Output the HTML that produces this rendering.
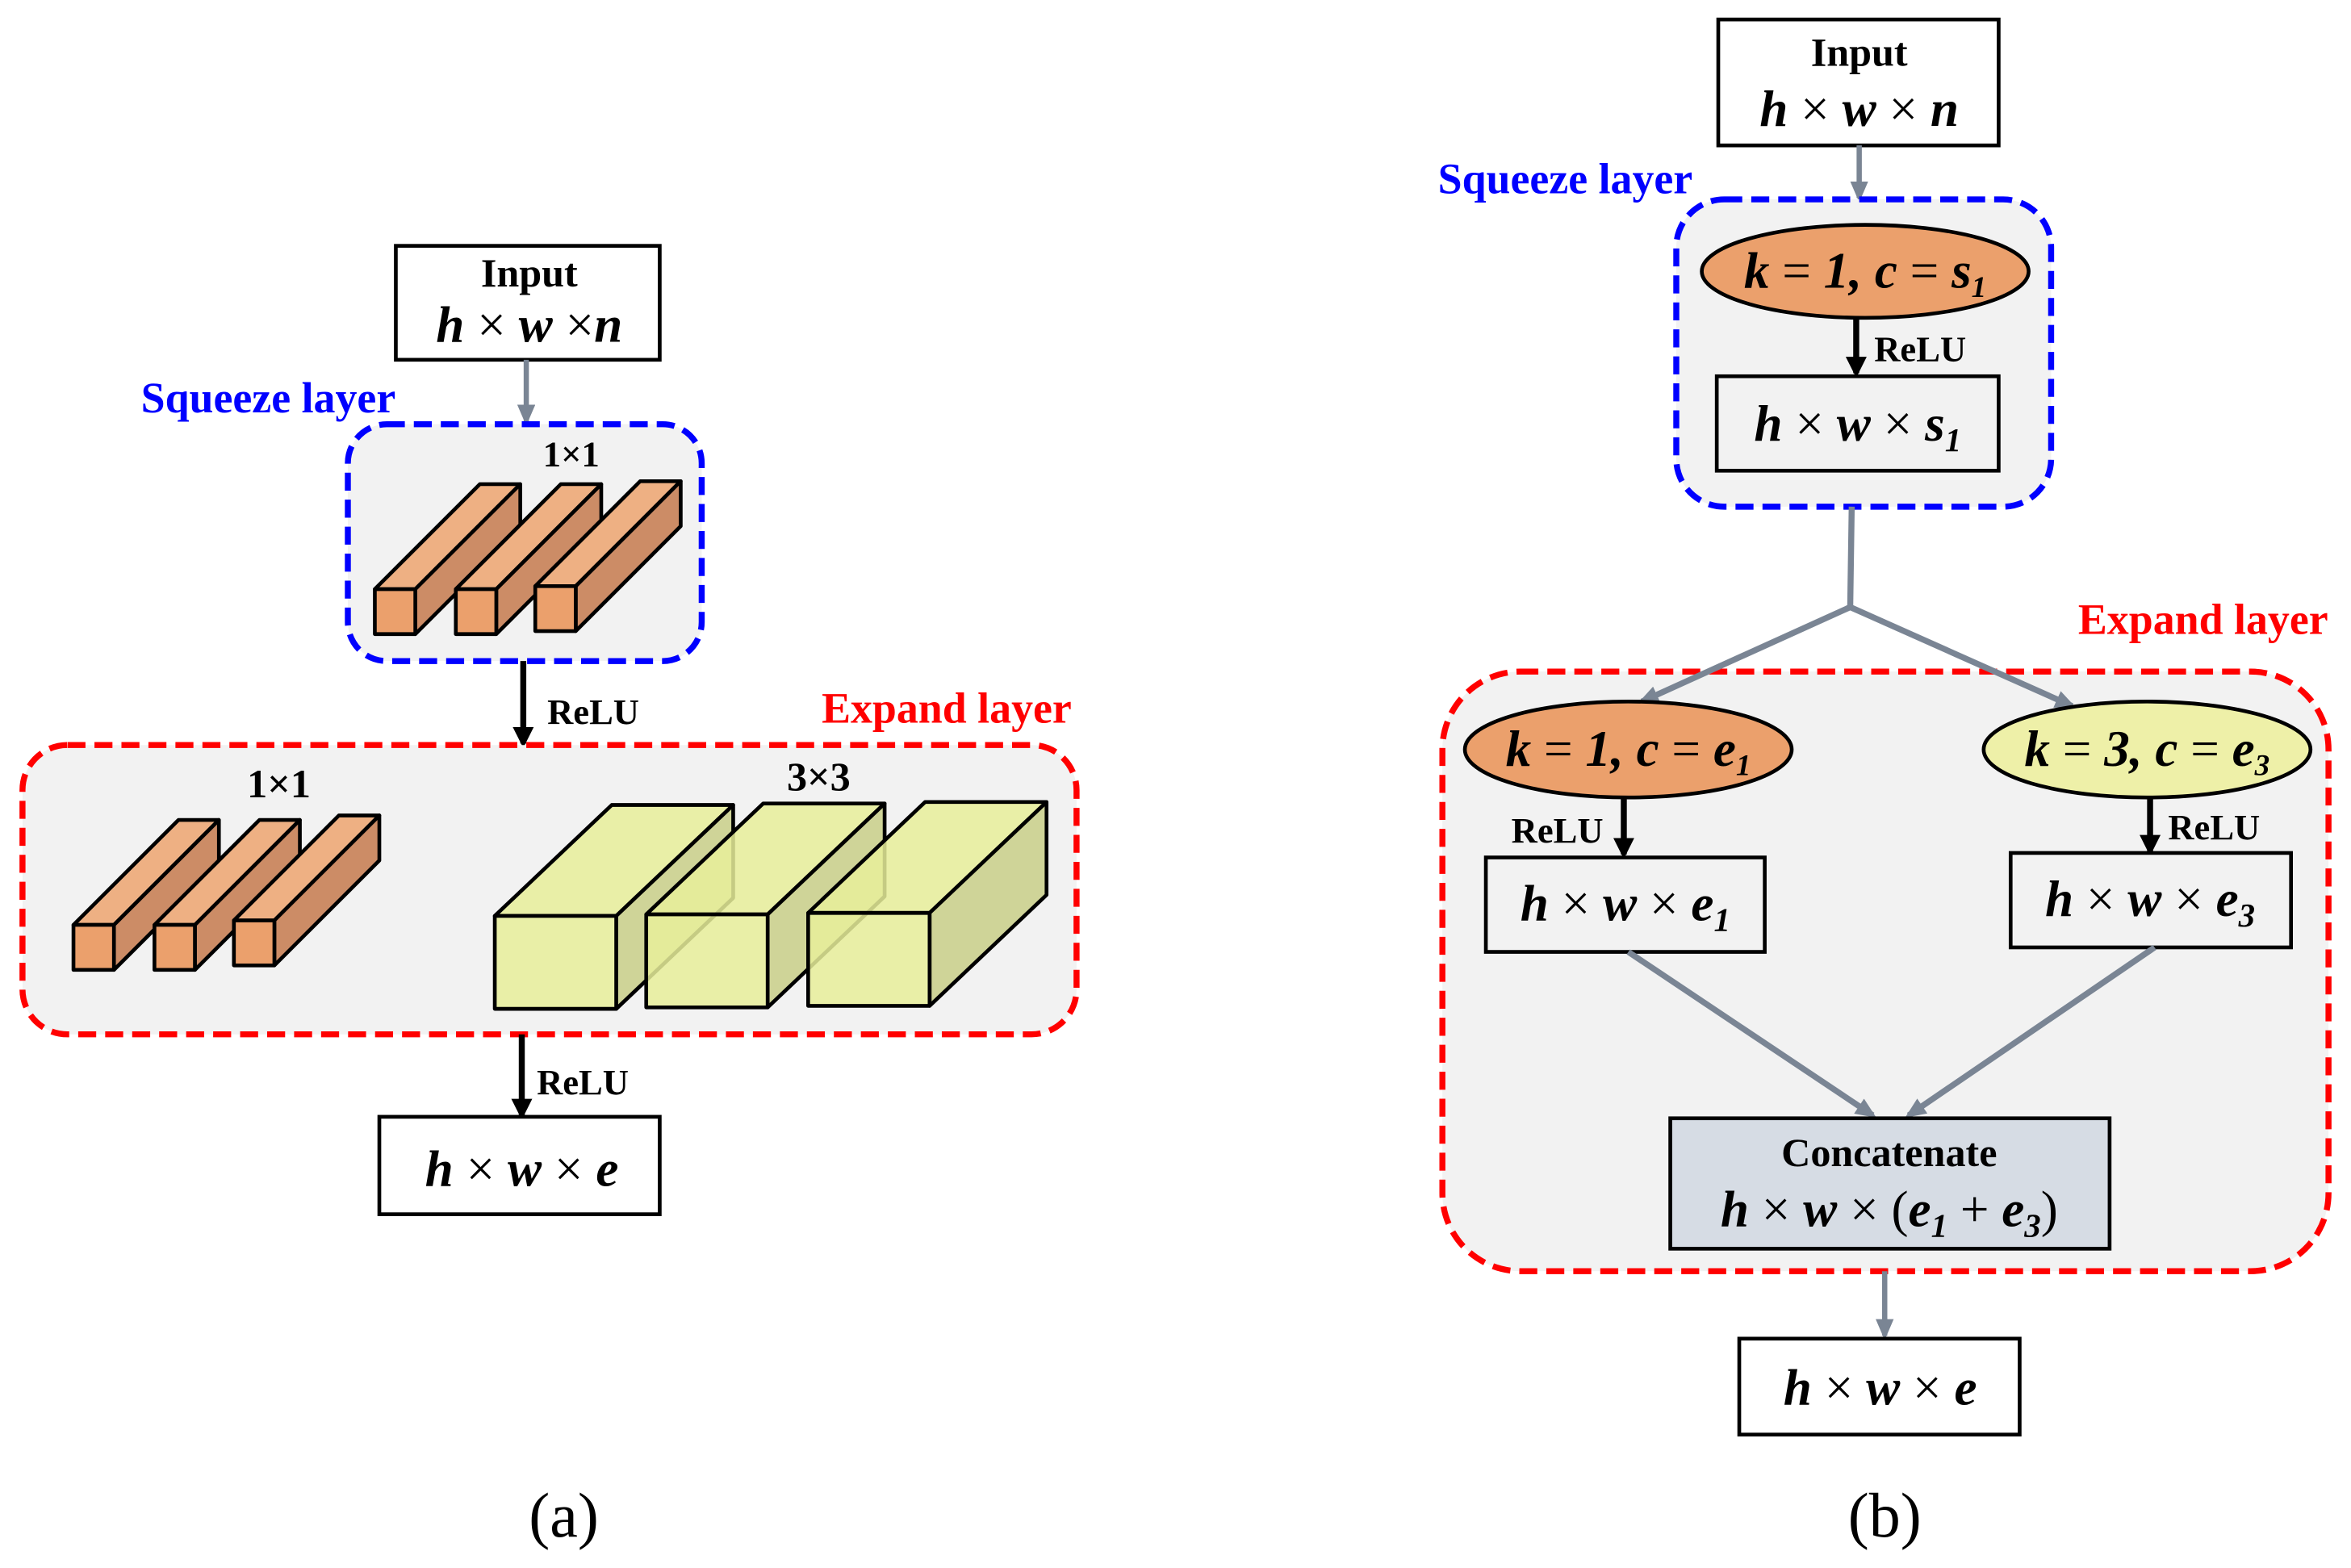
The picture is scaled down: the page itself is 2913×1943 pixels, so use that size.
<!DOCTYPE html>
<html><head><meta charset="utf-8"><style>
html,body{margin:0;padding:0;background:#fff}
svg{display:block}
text{font-family:"Liberation Serif",serif;font-weight:bold}
.m{font-style:italic;font-size:34px}
.x{font-style:normal;font-weight:normal}
.l{font-size:29px}
.i{font-size:27px}
.r{font-size:24px}
</style></head><body>
<svg width="2913" height="1943" viewBox="0 0 1568 1046" preserveAspectRatio="none" xmlns="http://www.w3.org/2000/svg">
<defs>
<marker id="ag" markerWidth="14" markerHeight="12" refX="11" refY="6" orient="auto" markerUnits="userSpaceOnUse" viewBox="0 0 14 12"><path d="M0,0 L14,6 L0,12z" fill="#7a8594"/></marker>
<marker id="ab" markerWidth="14" markerHeight="14" refX="11" refY="7" orient="auto" markerUnits="userSpaceOnUse" viewBox="0 0 14 14"><path d="M0,0 L14,7 L0,14z" fill="#000"/></marker>
<g id="bar" stroke="#000" stroke-width="2.5" stroke-linejoin="round">
<path d="M0,0 L70,-70 L97,-70 L27,0z" fill="#eeb083"/>
<path d="M27,0 L97,-70 L97,-40 L27,30z" fill="#cc8c66"/>
<rect x="0" y="0" width="27" height="30" fill="#eba06c"/>
</g>
<g id="box" stroke="#000" stroke-width="2.5" stroke-linejoin="round">
<path d="M0,0 L78,-74 L159,-74 L81,0z" fill="#e8ef9a" fill-opacity="0.85"/>
<path d="M81,0 L159,-74 L159,-12 L81,62z" fill="#c9cf88" fill-opacity="0.85"/>
<rect x="0" y="0" width="81" height="62" fill="#e8ef9a" fill-opacity="0.85"/>
</g>
</defs>

<!-- Panel (a) -->
<rect x="264" y="164" width="176" height="76" fill="#fff" stroke="#000" stroke-width="2.5"/>
<text x="353" y="191" text-anchor="middle" class="i">Input</text>
<text x="353" y="228" text-anchor="middle" class="m">h <tspan class="x">×</tspan> w <tspan class="x">×</tspan>n</text>
<text x="94" y="275" class="l" fill="#0000ff">Squeeze layer</text>
<line x1="351" y1="240" x2="351" y2="281" stroke="#7a8594" stroke-width="3.5" marker-end="url(#ag)"/>
<rect x="232" y="283" width="236" height="158" rx="26" fill="#f2f2f2" stroke="#0000ff" stroke-width="4" stroke-dasharray="12,6"/>
<text x="381" y="311" text-anchor="middle" class="r">1×1</text>
<use href="#bar" x="250" y="393"/>
<use href="#bar" x="304" y="393"/>
<use href="#bar" x="357" y="391"/>
<line x1="349" y1="441" x2="349" y2="496" stroke="#000" stroke-width="4" marker-end="url(#ab)"/>
<text x="365" y="483" class="r">ReLU</text>
<text x="548" y="482" class="l" fill="#ff0000">Expand layer</text>
<rect x="15" y="497" width="703" height="193" rx="30" fill="#f2f2f2" stroke="#ff0000" stroke-width="4" stroke-dasharray="12,6"/>
<text x="186" y="532" text-anchor="middle" class="i">1×1</text>
<use href="#bar" x="49" y="617"/>
<use href="#bar" x="103" y="617"/>
<use href="#bar" x="156" y="614"/>
<text x="546" y="527" text-anchor="middle" class="i">3×3</text>
<use href="#box" x="330" y="611"/>
<use href="#box" x="431" y="610"/>
<use href="#box" x="539" y="609"/>
<line x1="348" y1="690" x2="348" y2="744" stroke="#000" stroke-width="4" marker-end="url(#ab)"/>
<text x="358" y="730" class="r">ReLU</text>
<rect x="253" y="745" width="187" height="65" fill="#fff" stroke="#000" stroke-width="2.5"/>
<text x="348" y="791" text-anchor="middle" class="m">h <tspan class="x">×</tspan> w <tspan class="x">×</tspan> e</text>
<text x="376" y="1025" text-anchor="middle" font-size="42" style="font-weight:normal">(a)</text>

<!-- Panel (b) -->
<rect x="1146" y="13" width="187" height="84" fill="#fff" stroke="#000" stroke-width="2.5"/>
<text x="1240" y="44" text-anchor="middle" class="i">Input</text>
<text x="1240" y="84" text-anchor="middle" class="m">h <tspan class="x">×</tspan> w <tspan class="x">×</tspan> n</text>
<text x="959" y="129" class="l" fill="#0000ff">Squeeze layer</text>
<line x1="1240" y1="97" x2="1240" y2="132" stroke="#7a8594" stroke-width="3.5" marker-end="url(#ag)"/>
<rect x="1118" y="133" width="250" height="205" rx="32" fill="#f2f2f2" stroke="#0000ff" stroke-width="4" stroke-dasharray="12,6"/>
<ellipse cx="1244" cy="181" rx="109" ry="31" fill="#eba06c" stroke="#000" stroke-width="2.5"/>
<text x="1244" y="192" text-anchor="middle" class="m" font-size="31">k <tspan class="x">=</tspan> 1, c <tspan class="x">=</tspan> s<tspan font-size="20" dy="6">1</tspan></text>
<line x1="1238" y1="212" x2="1238" y2="249" stroke="#000" stroke-width="4" marker-end="url(#ab)"/>
<text x="1250" y="241" class="r">ReLU</text>
<rect x="1145" y="251" width="188" height="63" fill="#f2f2f2" stroke="#000" stroke-width="2.5"/>
<text x="1239" y="294" text-anchor="middle" class="m">h <tspan class="x">×</tspan> w <tspan class="x">×</tspan> s<tspan font-size="22" dy="7">1</tspan></text>
<text x="1386" y="423" class="l" fill="#ff0000">Expand layer</text>
<rect x="962" y="448" width="591" height="400" rx="52" fill="#f2f2f2" stroke="#ff0000" stroke-width="4" stroke-dasharray="12,6"/>
<polyline points="1235,338 1234,405" fill="none" stroke="#7a8594" stroke-width="4"/>
<line x1="1234" y1="405" x2="1095" y2="468" stroke="#7a8594" stroke-width="4" marker-end="url(#ag)"/>
<line x1="1234" y1="405" x2="1382" y2="471" stroke="#7a8594" stroke-width="4" marker-end="url(#ag)"/>
<ellipse cx="1086" cy="500" rx="109" ry="32" fill="#eba06c" stroke="#000" stroke-width="2.5"/>
<text x="1086" y="511" text-anchor="middle" class="m" font-size="31">k <tspan class="x">=</tspan> 1, c <tspan class="x">=</tspan> e<tspan font-size="20" dy="6">1</tspan></text>
<ellipse cx="1432" cy="500" rx="109" ry="32" fill="#eef0a8" stroke="#000" stroke-width="2.5"/>
<text x="1432" y="511" text-anchor="middle" class="m" font-size="31">k <tspan class="x">=</tspan> 3, c <tspan class="x">=</tspan> e<tspan font-size="20" dy="6">3</tspan></text>
<line x1="1083" y1="532" x2="1083" y2="570" stroke="#000" stroke-width="4" marker-end="url(#ab)"/>
<text x="1008" y="562" class="r">ReLU</text>
<rect x="991" y="572" width="186" height="63" fill="#f2f2f2" stroke="#000" stroke-width="2.5"/>
<text x="1084" y="614" text-anchor="middle" class="m">h <tspan class="x">×</tspan> w <tspan class="x">×</tspan> e<tspan font-size="22" dy="7">1</tspan></text>
<line x1="1434" y1="532" x2="1434" y2="568" stroke="#000" stroke-width="4" marker-end="url(#ab)"/>
<text x="1446" y="560" class="r">ReLU</text>
<rect x="1341" y="569" width="187" height="63" fill="#f2f2f2" stroke="#000" stroke-width="2.5"/>
<text x="1434" y="611" text-anchor="middle" class="m">h <tspan class="x">×</tspan> w <tspan class="x">×</tspan> e<tspan font-size="22" dy="7">3</tspan></text>
<line x1="1086" y1="635" x2="1249" y2="744" stroke="#7a8594" stroke-width="4" marker-end="url(#ag)"/>
<line x1="1437" y1="632" x2="1273" y2="744" stroke="#7a8594" stroke-width="4" marker-end="url(#ag)"/>
<rect x="1114" y="746" width="293" height="87" fill="#d6dce4" stroke="#000" stroke-width="2.5"/>
<text x="1260" y="778" text-anchor="middle" class="i">Concatenate</text>
<text x="1260" y="818" text-anchor="middle" class="m">h <tspan class="x">×</tspan> w <tspan class="x">× (</tspan>e<tspan font-size="22" dy="7">1</tspan><tspan dy="-7" class="x"> + </tspan>e<tspan font-size="22" dy="7">3</tspan><tspan dy="-7" class="x">)</tspan></text>
<line x1="1257" y1="848" x2="1257" y2="891" stroke="#7a8594" stroke-width="3.5" marker-end="url(#ag)"/>
<rect x="1160" y="893" width="187" height="64" fill="#fff" stroke="#000" stroke-width="2.5"/>
<text x="1254" y="937" text-anchor="middle" class="m">h <tspan class="x">×</tspan> w <tspan class="x">×</tspan> e</text>
<text x="1257" y="1025" text-anchor="middle" font-size="42" style="font-weight:normal">(b)</text>
</svg>
</body></html>
